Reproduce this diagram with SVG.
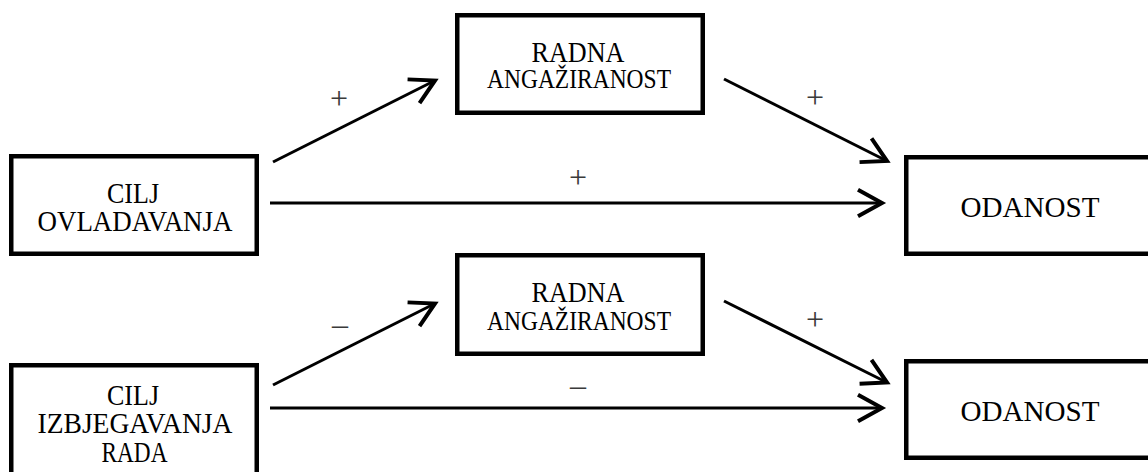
<svg xmlns="http://www.w3.org/2000/svg" width="1148" height="472" viewBox="0 0 1148 472">
<style>
.box{fill:#fff;stroke:#000;stroke-width:4.5}
.t{font-family:"Liberation Serif","Times New Roman",serif;fill:#000;text-anchor:middle}
.big{font-size:29px}
.mid{font-size:27px}
.sign{font-family:"Liberation Serif","Times New Roman",serif;font-size:32px;fill:#3a3a3a;text-anchor:middle}
.ln{stroke:#000;stroke-width:3;fill:none;marker-end:url(#arr)}
</style>
<defs>
<marker id="arr" markerUnits="userSpaceOnUse" markerWidth="40" markerHeight="40" viewBox="-25 -15 30 30" refX="0" refY="0" orient="auto" overflow="visible">
<path d="M-18,-10 L0,0 L-18,10" fill="none" stroke="#000" stroke-width="3"/>
</marker>
</defs>
<rect width="1148" height="472" fill="#fff"/>
<g id="connectors">
<line class="ln" x1="273" y1="162" x2="435" y2="80.5"/>
<line class="ln" x1="724" y1="79" x2="887" y2="161"/>
<line class="ln" x1="270" y1="203" x2="882" y2="203"/>
<line class="ln" x1="273" y1="385" x2="435" y2="303.5"/>
<line class="ln" x1="724" y1="301" x2="887" y2="382.5"/>
<line class="ln" x1="270" y1="408" x2="882" y2="408"/>
<text class="sign" x="339" y="109">+</text>
<text class="sign" x="815" y="108">+</text>
<text class="sign" x="578" y="188">+</text>
<text class="sign" x="340" y="335">–</text>
<text class="sign" x="815" y="330">+</text>
<text class="sign" x="578" y="396">–</text>
</g>
<g id="cilj-ovladavanja">
<rect class="box" x="11.25" y="156.25" width="245.5" height="97.5"/>
<text class="t big" x="133" y="203" textLength="52" lengthAdjust="spacingAndGlyphs">CILJ</text>
<text class="t big" x="135" y="231" textLength="195" lengthAdjust="spacingAndGlyphs">OVLADAVANJA</text>
</g>
<g id="radna-angaziranost-1">
<rect class="box" x="457.25" y="15.25" width="245.5" height="97.5"/>
<text class="t big" x="578" y="62" textLength="93" lengthAdjust="spacingAndGlyphs">RADNA</text>
<text class="t mid" x="579" y="88" textLength="184" lengthAdjust="spacingAndGlyphs">ANGAŽIRANOST</text>
</g>
<g id="odanost-1">
<rect class="box" x="906.25" y="157.25" width="260" height="96.5"/>
<text class="t big" x="1030" y="216.5" textLength="139" lengthAdjust="spacingAndGlyphs">ODANOST</text>
</g>
<g id="radna-angaziranost-2">
<rect class="box" x="457.25" y="255.25" width="245.5" height="98.5"/>
<text class="t big" x="578" y="302" textLength="93" lengthAdjust="spacingAndGlyphs">RADNA</text>
<text class="t mid" x="579" y="330" textLength="184" lengthAdjust="spacingAndGlyphs">ANGAŽIRANOST</text>
</g>
<g id="cilj-izbjegavanja-rada">
<rect class="box" x="11.25" y="365.25" width="245.5" height="130"/>
<text class="t big" x="133" y="405" textLength="52" lengthAdjust="spacingAndGlyphs">CILJ</text>
<text class="t big" x="135" y="433" textLength="195" lengthAdjust="spacingAndGlyphs">IZBJEGAVANJA</text>
<text class="t big" x="134.5" y="461.5" textLength="66" lengthAdjust="spacingAndGlyphs">RADA</text>
</g>
<g id="odanost-2">
<rect class="box" x="906.25" y="361.25" width="260" height="96.5"/>
<text class="t big" x="1030" y="421" textLength="139" lengthAdjust="spacingAndGlyphs">ODANOST</text>
</g>
</svg>
